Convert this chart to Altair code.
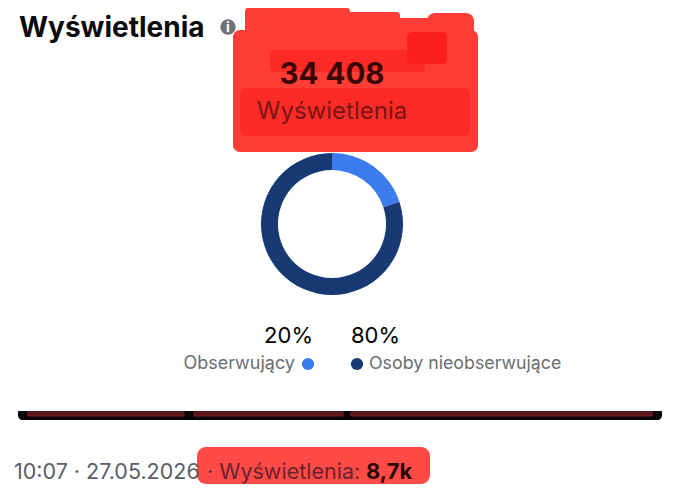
import altair as alt
import pandas as pd

segments = ["Obserwujący", "Osoby nieobserwujące"]
shares = [20, 80]
share_labels = ["20%", "80%"]
colors = ["#3b7bee", "#173a75"]
title = "Wyświetlenia"
total = "34 408"
footer_left = "10:07 · 27.05.2026"
footer_mid = "· Wyświetlenia:"
footer_bold = "8,7k"
FONT = "Inter"
W, H = 664, 486


def px(v):
    return v - 8


def label(text, x, y, size, color="#000000", weight="normal", align="left"):
    return (
        alt.Chart(pd.DataFrame({"t": [text]}))
        .mark_text(font=FONT, fontSize=size, fontWeight=weight, align=align,
                   baseline="alphabetic", color=color)
        .encode(x=alt.value(px(x)), y=alt.value(px(y)), text="t:N")
    )


def box(x1, x2, y1, y2, color, radius=0, **kw):
    return (
        alt.Chart(pd.DataFrame({"a": [0]}))
        .mark_rect(color=color, cornerRadius=radius, **kw)
        .encode(x=alt.value(px(x1)), x2=alt.value(px(x2)), y=alt.value(px(y1)), y2=alt.value(px(y2)))
    )


def dot(x, y, color, size):
    return (
        alt.Chart(pd.DataFrame({"a": [0]}))
        .mark_circle(color=color, opacity=1, size=size)
        .encode(x=alt.value(px(x)), y=alt.value(px(y)))
    )


donut = (
    alt.Chart(pd.DataFrame({"s": segments, "v": shares, "o": [0, 1]}))
    .mark_arc(outerRadius=71, innerRadius=54)
    .encode(
        theta=alt.Theta("v:Q", stack=True),
        order=alt.Order("o:Q"),
        color=alt.Color("s:N", scale=alt.Scale(domain=segments, range=colors), legend=None),
        x=alt.value(px(332)),
        y=alt.value(px(224)),
    )
)

RED = "#ff3d36"
DARK = "#fd2a25"
layers = [
    label(title, 19, 37, 28, "#0b0b0d", "bold"),
    box(245, 300, 6, 40, RED, 6),
    box(290, 350, 8, 40, RED, 3),
    box(345, 400, 12, 40, RED, 3),
    box(395, 430, 18, 40, RED, 3),
    box(427, 474, 13, 40, RED, 8),
    box(233, 478, 30, 152, RED, 7),
    box(270, 425, 50, 72, DARK, 4),
    box(407, 447, 32, 64, "#fb1f1a", 5),
    box(240, 470, 88, 136, DARK, 5),
    dot(228, 27, "#6f7378", 235),
    label("i", 228, 32, 14, "#ffffff", "bold", "center"),
    label(total, 332, 84, 29.5, "#3a0505", "bold", "center"),
    label(title, 332, 119, 24, "#7a1515", "normal", "center"),
    donut,
    label(share_labels[0], 313, 343, 22, "#000000", "normal", "right"),
    label(share_labels[1], 351, 343, 22, "#000000", "normal", "left"),
    label(segments[0], 295, 369, 18, "#6b6d72", "normal", "right"),
    dot(308, 364, colors[0], 150),
    dot(357, 364, colors[1], 150),
    label(segments[1], 369, 369, 17.8, "#6b6d72", "normal", "left"),
    box(18, 662, 411, 420, "#0a0508", 0, cornerRadiusBottomLeft=10, cornerRadiusBottomRight=10),
    box(28, 184, 412, 416, "#5a1518", 0, stroke="#7a2028", strokeWidth=1),
    box(194, 343, 412, 416, "#5a1518", 0, stroke="#7a2028", strokeWidth=1),
    box(351, 652, 412, 416, "#5a1518", 0, stroke="#7a2028", strokeWidth=1),
    box(197, 430, 447, 484, "#ff4a45", 9),
    label(footer_left, 14, 479, 21.5, "#5a5d66"),
    label(footer_mid, 207, 479, 21.5, "#6b2230"),
    label(footer_bold, 366, 479, 22, "#2a0808", "bold"),
]

chart = alt.layer(*layers).properties(
    width=W, height=H, padding=0, autosize=alt.AutoSizeParams(type="none"),
).configure_view(stroke=None)

chart.save("out.html", embed_options={"renderer": "svg", "actions": False})
